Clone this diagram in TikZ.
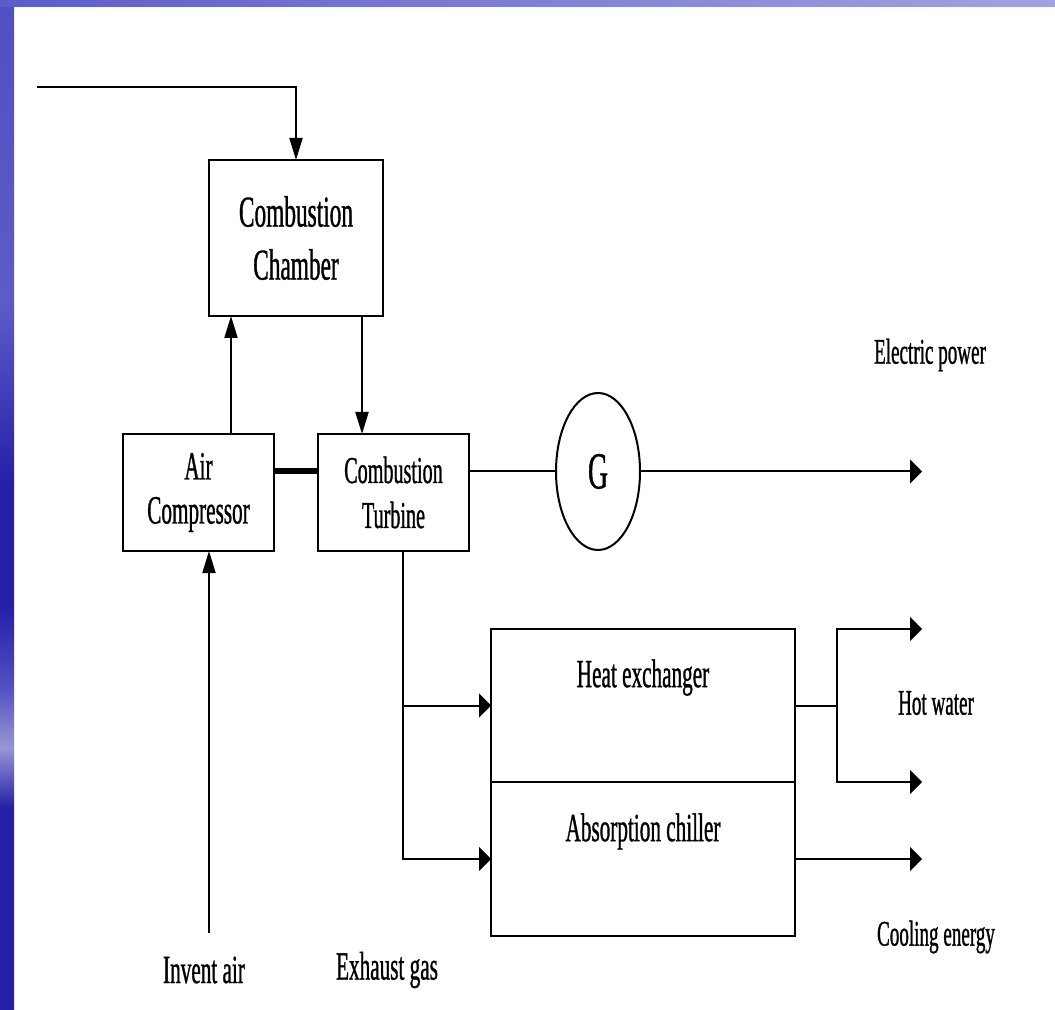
\documentclass[tikz,border=0pt]{standalone}
\usepackage{fontspec}
\usepackage{tikz}
\usetikzlibrary{arrows.meta,positioning,shapes.geometric}
\newfontfamily\diagfont{Liberation Serif}[FakeStretch=0.53, FakeBold=0.8]
\definecolor{slidedark}{RGB}{36,32,168}
\definecolor{slidemid}{RGB}{92,92,200}
\definecolor{slidelight}{RGB}{150,150,214}
\definecolor{slidetop}{RGB}{162,162,226}
\pgfdeclareverticalshading{stripshade}{100bp}{color(0bp)=(slidedark); color(25bp)=(slidedark);
  color(35bp)=(slidedark); color(38bp)=(slidelight); color(41bp)=(slidemid!80!slidedark);
  color(45bp)=(slidedark); color(51bp)=(slidedark); color(60bp)=(slidemid);
  color(75bp)=(slidemid!80!slidedark); color(100bp)=(slidemid!80!slidedark)}

\begin{document}
\begin{tikzpicture}[
  x=0.5pt, y=-0.5pt,
  font=\diagfont,
  box/.style={draw, line width=1.2pt, outer sep=0pt, inner sep=0pt, align=center,
    font=\diagfont\fontsize{20}{22}\selectfont},
  lbl/.style={inner sep=0pt, font=\diagfont\fontsize{20}{24}\selectfont},
  side/.style={inner sep=0pt, font=\diagfont\fontsize{18}{22}\selectfont},
  ln/.style={line width=1pt},
  ar/.style={ln, -{Triangle[length=11pt, width=6.5pt]}},
  arh/.style={ln, -{Triangle[length=6pt, width=12pt]}},
  shaft/.style={line width=3pt}
]
\useasboundingbox (0,0) rectangle (1055,1010);
\fill[white] (0,0) rectangle (1055,1010);
\shade[shading=stripshade] (0,0) rectangle (14,1010);
\shade[left color=slidemid, right color=slidetop] (0,0) rectangle (1055,7);

\node[box, minimum width=87pt, minimum height=78pt, font=\diagfont\fontsize{22}{26.5}\selectfont] (chamber) at (296,238) {Combustion\\Chamber};
\node[box, minimum width=75.5pt, minimum height=58.5pt] (comp) at (198.5,492.5) {Air\\Compressor};
\node[box, minimum width=75.5pt, minimum height=58.5pt, right=22pt of comp, font=\diagfont\fontsize{19}{22.5}\selectfont] (turb) {Combustion\\Turbine};
\node[draw, ellipse, line width=1pt, inner sep=0pt, minimum width=42pt, minimum height=78.5pt, font=\diagfont\fontsize{26}{28}\selectfont] (gen) at (598,471.5) {G};
\node[box, minimum width=152pt, minimum height=76.5pt, label={[lbl, anchor=north, yshift=-15pt]north:Heat exchanger}] (hx) at (643,705.5) {};
\node[box, minimum width=152pt, minimum height=77pt, below=0pt of hx, label={[lbl, anchor=north, yshift=-15.5pt]north:Absorption chiller}] (ac) {};

\coordinate (fuel) at (37,87);
\coordinate (air) at (209,933);
\coordinate (outx) at (922,0);
\coordinate (hwsplit) at (837,705.5);

\draw[ar] (fuel) -| (chamber.north);
\draw[ar] ([xshift=-32.5pt]chamber.south |- comp.north) -- ([xshift=-32.5pt]chamber.south);
\draw[ar] ([xshift=33pt]chamber.south) -- ([xshift=33pt]chamber.south |- turb.north);
\draw[ar] (air) -- (air |- comp.south);
\draw[shaft] (comp.east |- gen.west) -- (turb.west |- gen.west);
\draw[ln] (turb.east |- gen.west) -- (gen.west);
\draw[arh] (gen.east) -- (gen.east -| outx);
\draw[arh] ([xshift=4.75pt]turb.south) |- (ac.west);
\draw[arh] ([xshift=4.75pt]turb.south |- hx.west) -- (hx.west);
\draw[ln] (hx.east) -- (hwsplit);
\draw[arh] (hwsplit) |- (hx.north -| outx);
\draw[arh] (hwsplit) |- (hx.south -| outx);
\draw[arh] (ac.east) -- (ac.east -| outx);

\node[side] (elecl) at (930,355) {Electric power};
\node[side] (hotl) at (936,703) {Hot water};
\node[side] (cooll) at (936,937) {Cooling energy};
\node[lbl] (airl) at (204,970) {Invent air};
\node[lbl] (exhl) at (387,970) {Exhaust gas};
\end{tikzpicture}
\end{document}
